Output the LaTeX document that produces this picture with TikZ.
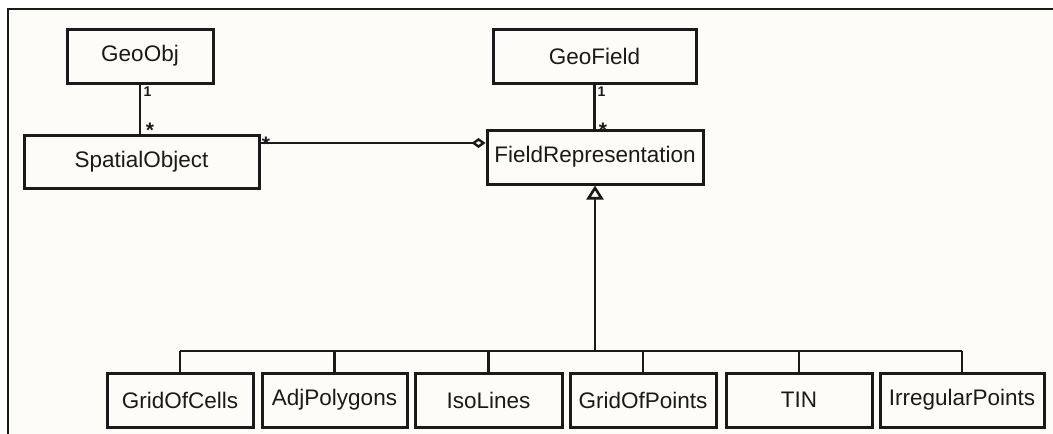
\documentclass[tikz,border=0pt]{standalone}
\usepackage{fontspec}
\setmainfont{Liberation Sans}
\usetikzlibrary{arrows.meta}
\definecolor{paper}{HTML}{FDFCF8}
\definecolor{ink}{HTML}{1A1A1A}
\tikzset{
  cls/.style={draw=ink, line width=3pt, fill=paper, inner sep=0pt,
    font=\fontsize{22.5}{24}\selectfont, text=ink},
  conn/.style={draw=ink, line width=2.8pt},
  mult/.style={font=\bfseries\fontsize{14}{14}\selectfont, text=ink, inner sep=0pt},
  star/.style={font=\bfseries\fontsize{21}{21}\selectfont, text=ink, inner sep=0pt},
}
\begin{document}
\begin{tikzpicture}[x=1pt,y=-1pt]
\useasboundingbox (0,0) rectangle (1053,434);
\fill[white] (0,0) rectangle (1053,434);
\fill[paper] (8,9) rectangle (1053,434);
\draw[ink, line width=2.2pt] (8,434) -- (8,9) -- (1053,9);

% classes
\node[cls, minimum width=146pt, minimum height=54pt] (geoobj) at (140,56) {GeoObj};
\node[cls, minimum width=235pt, minimum height=53pt] (spatial) at (141.5,161.5) {SpatialObject};
\node[cls, minimum width=203pt, minimum height=54pt] (geofield) at (594.5,56) {GeoField};
\node[cls, minimum width=216pt, minimum height=54pt] (fieldrep) at (595,157) {FieldRepresentation};

\node[cls, minimum width=146pt, minimum height=54pt] (cells) at (180,400) {GridOfCells};
\node[cls, minimum width=145pt, minimum height=54pt] (adj) at (334.5,400) {AdjPolygons};
\node[cls, minimum width=147pt, minimum height=54pt] (iso) at (488.5,400) {IsoLines};
\node[cls, minimum width=146pt, minimum height=54pt] (gpts) at (643,400) {GridOfPoints};
\node[cls, minimum width=146pt, minimum height=54pt] (tin) at (799,400) {TIN};
\node[cls, minimum width=164pt, minimum height=54pt] (irr) at (962,400) {IrregularPoints};

% associations
\draw[conn] (geoobj.south) -- (geoobj.south |- spatial.north);
\node[mult] (m1) at (147.5,92) {1};
\node[star] (s1) at (150,130) {*};
\draw[conn] (geofield.south) -- (geofield.south |- fieldrep.north);
\node[mult] (m2) at (601.5,92) {1};
\node[star] (s2) at (603,130) {*};

\draw[conn, -{Diamond[open, length=14pt, width=10pt, line width=2.4pt]}] (spatial.east |- 0,143) -- (fieldrep.west |- 0,143);
\node[star] (s3) at (266,144) {*};

% generalization
\coordinate (bus) at (fieldrep.south |- 0,351);
\draw[conn, -{Triangle[open, length=14pt, width=17pt, line width=2.6pt]}] (bus) -- (fieldrep.south);
\draw[conn] (cells.north |- 0,351) -- (irr.north |- 0,351);
\foreach \n in {cells,adj,iso,gpts,tin,irr}
  \draw[conn] (\n.north) -- (\n.north |- 0,351);
\end{tikzpicture}
\end{document}
